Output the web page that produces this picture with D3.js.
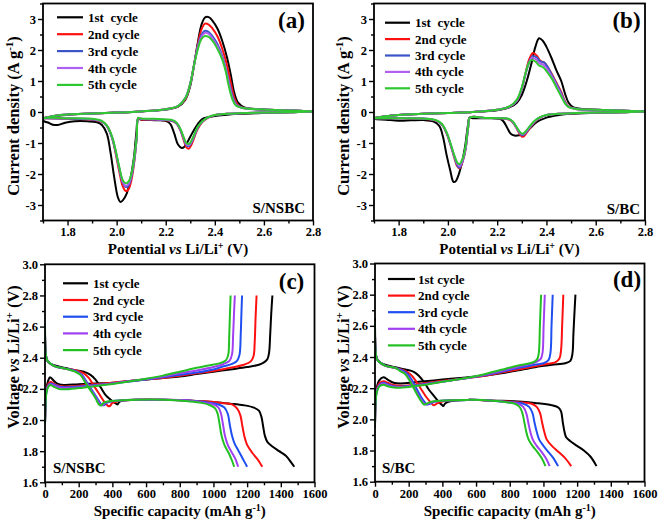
<!DOCTYPE html>
<html><head><meta charset="utf-8">
<script src="https://cdn.jsdelivr.net/npm/d3@7"></script>
<style>
body{margin:0;background:#fff}
svg text{font-family:"Liberation Serif","Times New Roman",serif;font-weight:bold;fill:#000;white-space:pre}
</style></head><body>
<svg id="chart" width="659" height="522"></svg>
<script>
// ---------- DATA ----------
const cycles = ["1st  cycle","2nd cycle","3rd cycle","4th cycle","5th cycle"];
const cyclesGCD = ["1st cycle","2nd cycle","3rd cycle","4th cycle","5th cycle"];
const cvXTicks = [1.8,2.0,2.2,2.4,2.6,2.8];
const cvYTicks = [-3,-2,-1,0,1,2,3];
const gcdXTicks = [0,200,400,600,800,1000,1200,1400,1600];
const gcdYTicks = [1.6,1.8,2.0,2.2,2.4,2.6,2.8,3.0];

// CV S/NSBC (a): each cycle = cathodic scan (2.8 -> 1.7) then anodic scan (1.7 -> 2.8)
const cvA_cathodic = [
 [[2.8,0.02],[2.7,-0.01],[2.6,-0.03],[2.5,-0.06],[2.45,-0.09],[2.4,-0.13],[2.35,-0.22],[2.33,-0.4],[2.31,-0.65],[2.29,-0.95],[2.275,-1.13],[2.265,-1.16],[2.25,-1.05],[2.235,-0.7],[2.22,-0.4],[2.205,-0.3],[2.18,-0.27],[2.14,-0.26],[2.1,-0.25],[2.088,-0.22],[2.08,-0.7],[2.07,-1.5],[2.055,-2.2],[2.04,-2.65],[2.025,-2.85],[2.015,-2.9],[2.005,-2.75],[1.99,-2.1],[1.975,-1.3],[1.96,-0.7],[1.94,-0.42],[1.92,-0.33],[1.88,-0.3],[1.83,-0.3],[1.79,-0.35],[1.76,-0.42],[1.74,-0.41],[1.72,-0.34],[1.7,-0.28]],
 [[2.8,0.02],[2.7,-0.01],[2.6,-0.02],[2.5,-0.04],[2.45,-0.06],[2.4,-0.1],[2.37,-0.2],[2.35,-0.32],[2.33,-0.55],[2.315,-0.85],[2.305,-1.05],[2.295,-1.18],[2.285,-1.15],[2.275,-0.95],[2.26,-0.6],[2.245,-0.38],[2.23,-0.3],[2.2,-0.27],[2.15,-0.25],[2.1,-0.24],[2.088,-0.2],[2.082,-0.8],[2.072,-1.6],[2.06,-2.2],[2.048,-2.5],[2.037,-2.55],[2.025,-2.4],[2.01,-1.9],[1.995,-1.3],[1.98,-0.8],[1.96,-0.45],[1.94,-0.32],[1.9,-0.25],[1.8,-0.22],[1.7,-0.2]],
 [[2.8,0.02],[2.7,-0.01],[2.6,-0.02],[2.5,-0.04],[2.45,-0.06],[2.4,-0.1],[2.37,-0.19],[2.35,-0.3],[2.33,-0.52],[2.315,-0.8],[2.305,-0.98],[2.295,-1.1],[2.285,-1.08],[2.275,-0.9],[2.26,-0.58],[2.245,-0.37],[2.23,-0.29],[2.2,-0.26],[2.15,-0.24],[2.1,-0.23],[2.088,-0.2],[2.082,-0.8],[2.072,-1.55],[2.06,-2.1],[2.048,-2.38],[2.037,-2.42],[2.025,-2.28],[2.01,-1.8],[1.995,-1.25],[1.98,-0.8],[1.96,-0.45],[1.94,-0.31],[1.9,-0.24],[1.8,-0.21],[1.7,-0.2]],
 [[2.8,0.02],[2.7,-0.01],[2.6,-0.02],[2.5,-0.04],[2.45,-0.06],[2.4,-0.1],[2.37,-0.19],[2.35,-0.3],[2.33,-0.5],[2.315,-0.78],[2.305,-0.96],[2.295,-1.07],[2.285,-1.05],[2.275,-0.88],[2.26,-0.57],[2.245,-0.36],[2.23,-0.28],[2.2,-0.25],[2.15,-0.23],[2.1,-0.22],[2.088,-0.2],[2.082,-0.8],[2.072,-1.5],[2.06,-2.05],[2.048,-2.33],[2.037,-2.38],[2.025,-2.25],[2.01,-1.78],[1.995,-1.22],[1.98,-0.78],[1.96,-0.44],[1.94,-0.3],[1.9,-0.23],[1.8,-0.2],[1.7,-0.19]],
 [[2.8,0.02],[2.7,-0.01],[2.6,-0.02],[2.5,-0.04],[2.45,-0.06],[2.4,-0.1],[2.37,-0.18],[2.35,-0.29],[2.33,-0.48],[2.315,-0.75],[2.305,-0.92],[2.295,-1.03],[2.285,-1.01],[2.275,-0.85],[2.26,-0.55],[2.245,-0.35],[2.23,-0.27],[2.2,-0.24],[2.15,-0.22],[2.1,-0.21],[2.088,-0.19],[2.082,-0.8],[2.072,-1.45],[2.06,-2.0],[2.048,-2.25],[2.037,-2.3],[2.025,-2.2],[2.01,-1.75],[1.995,-1.2],[1.98,-0.76],[1.96,-0.43],[1.94,-0.29],[1.9,-0.22],[1.8,-0.2],[1.7,-0.19]]
];
const cvA_anodic = [
 [[1.7,-0.22],[1.75,-0.13],[1.8,-0.09],[1.9,-0.05],[2.0,-0.02],[2.1,0.02],[2.2,0.08],[2.25,0.17],[2.28,0.4],[2.3,0.85],[2.315,1.5],[2.33,2.2],[2.345,2.8],[2.36,3.05],[2.375,3.06],[2.39,2.95],[2.41,2.7],[2.43,2.3],[2.45,1.75],[2.465,1.2],[2.48,0.6],[2.495,0.3],[2.52,0.15],[2.6,0.08],[2.7,0.05],[2.8,0.02]],
 [[1.7,-0.2],[1.75,-0.12],[1.8,-0.08],[1.9,-0.05],[2.0,-0.02],[2.1,0.02],[2.2,0.09],[2.25,0.18],[2.28,0.42],[2.3,0.9],[2.315,1.5],[2.33,2.15],[2.345,2.65],[2.36,2.85],[2.375,2.82],[2.39,2.7],[2.41,2.45],[2.43,2.05],[2.45,1.5],[2.465,0.95],[2.48,0.45],[2.495,0.22],[2.52,0.13],[2.6,0.08],[2.7,0.05],[2.8,0.02]],
 [[1.7,-0.2],[1.75,-0.12],[1.8,-0.08],[1.9,-0.05],[2.0,-0.02],[2.1,0.02],[2.2,0.09],[2.25,0.19],[2.28,0.45],[2.3,0.92],[2.315,1.5],[2.33,2.1],[2.345,2.48],[2.36,2.62],[2.375,2.58],[2.39,2.45],[2.41,2.2],[2.43,1.82],[2.445,1.4],[2.46,0.9],[2.475,0.45],[2.49,0.22],[2.52,0.12],[2.6,0.08],[2.7,0.05],[2.8,0.02]],
 [[1.7,-0.2],[1.75,-0.12],[1.8,-0.08],[1.9,-0.05],[2.0,-0.02],[2.1,0.02],[2.2,0.09],[2.25,0.19],[2.28,0.45],[2.3,0.92],[2.315,1.5],[2.33,2.05],[2.345,2.42],[2.36,2.55],[2.375,2.52],[2.39,2.38],[2.41,2.13],[2.43,1.76],[2.445,1.35],[2.458,0.9],[2.472,0.45],[2.488,0.22],[2.52,0.12],[2.6,0.08],[2.7,0.05],[2.8,0.02]],
 [[1.7,-0.2],[1.75,-0.12],[1.8,-0.08],[1.9,-0.05],[2.0,-0.02],[2.1,0.02],[2.2,0.09],[2.25,0.19],[2.28,0.45],[2.3,0.92],[2.315,1.5],[2.33,2.0],[2.345,2.35],[2.36,2.45],[2.375,2.42],[2.39,2.3],[2.41,2.05],[2.43,1.7],[2.445,1.3],[2.455,0.9],[2.47,0.45],[2.485,0.22],[2.52,0.12],[2.6,0.08],[2.7,0.05],[2.8,0.02]]
];

// CV S/BC (b)
const cvB_cathodic = [
 [[2.8,0.02],[2.7,-0.01],[2.6,-0.03],[2.5,-0.06],[2.45,-0.1],[2.4,-0.18],[2.36,-0.33],[2.33,-0.55],[2.31,-0.7],[2.29,-0.75],[2.27,-0.76],[2.255,-0.7],[2.24,-0.5],[2.225,-0.3],[2.21,-0.22],[2.15,-0.2],[2.1,-0.2],[2.088,-0.18],[2.08,-0.5],[2.07,-1.1],[2.055,-1.7],[2.04,-2.1],[2.03,-2.25],[2.022,-2.25],[2.01,-1.9],[1.995,-1.4],[1.98,-0.8],[1.965,-0.45],[1.94,-0.3],[1.9,-0.26],[1.85,-0.27],[1.8,-0.28],[1.75,-0.25],[1.7,-0.22]],
 [[2.8,0.02],[2.7,-0.01],[2.6,-0.02],[2.5,-0.04],[2.45,-0.06],[2.4,-0.1],[2.37,-0.2],[2.35,-0.35],[2.33,-0.55],[2.315,-0.72],[2.305,-0.8],[2.295,-0.75],[2.28,-0.55],[2.265,-0.35],[2.25,-0.25],[2.22,-0.2],[2.15,-0.19],[2.09,-0.18],[2.082,-0.5],[2.072,-1.2],[2.06,-1.6],[2.047,-1.82],[2.038,-1.75],[2.025,-1.45],[2.01,-1.05],[1.995,-0.7],[1.975,-0.4],[1.95,-0.28],[1.9,-0.22],[1.8,-0.2],[1.7,-0.2]],
 [[2.8,0.02],[2.7,-0.01],[2.6,-0.02],[2.5,-0.04],[2.45,-0.06],[2.4,-0.1],[2.37,-0.19],[2.35,-0.33],[2.33,-0.52],[2.315,-0.68],[2.305,-0.75],[2.295,-0.71],[2.28,-0.53],[2.265,-0.34],[2.25,-0.24],[2.22,-0.2],[2.15,-0.19],[2.09,-0.18],[2.082,-0.5],[2.072,-1.18],[2.06,-1.58],[2.047,-1.8],[2.038,-1.72],[2.025,-1.42],[2.01,-1.03],[1.995,-0.68],[1.975,-0.4],[1.95,-0.27],[1.9,-0.21],[1.8,-0.2],[1.7,-0.2]],
 [[2.8,0.02],[2.7,-0.01],[2.6,-0.02],[2.5,-0.04],[2.45,-0.06],[2.4,-0.1],[2.37,-0.19],[2.35,-0.32],[2.33,-0.5],[2.315,-0.66],[2.305,-0.72],[2.295,-0.69],[2.28,-0.52],[2.265,-0.33],[2.25,-0.24],[2.22,-0.2],[2.15,-0.19],[2.09,-0.18],[2.082,-0.5],[2.072,-1.15],[2.06,-1.55],[2.047,-1.75],[2.038,-1.68],[2.025,-1.4],[2.01,-1.02],[1.995,-0.67],[1.975,-0.39],[1.95,-0.27],[1.9,-0.21],[1.8,-0.2],[1.7,-0.2]],
 [[2.8,0.02],[2.7,-0.01],[2.6,-0.02],[2.5,-0.04],[2.45,-0.06],[2.4,-0.1],[2.37,-0.18],[2.35,-0.3],[2.33,-0.48],[2.315,-0.63],[2.305,-0.7],[2.295,-0.67],[2.28,-0.5],[2.265,-0.32],[2.25,-0.23],[2.22,-0.2],[2.15,-0.19],[2.09,-0.18],[2.082,-0.5],[2.072,-1.1],[2.06,-1.5],[2.047,-1.68],[2.038,-1.63],[2.025,-1.37],[2.01,-1.0],[1.995,-0.66],[1.975,-0.38],[1.95,-0.26],[1.9,-0.21],[1.8,-0.2],[1.7,-0.2]]
];
const cvB_anodic = [
 [[1.7,-0.2],[1.75,-0.14],[1.8,-0.1],[1.9,-0.06],[2.0,-0.03],[2.1,0.0],[2.2,0.06],[2.25,0.15],[2.28,0.3],[2.3,0.55],[2.32,1.0],[2.34,1.6],[2.355,2.1],[2.37,2.38],[2.385,2.3],[2.4,2.1],[2.42,1.75],[2.44,1.35],[2.46,1.0],[2.475,0.6],[2.49,0.3],[2.51,0.15],[2.55,0.1],[2.65,0.06],[2.8,0.02]],
 [[1.7,-0.2],[1.75,-0.14],[1.8,-0.1],[1.9,-0.06],[2.0,-0.03],[2.1,0.0],[2.2,0.07],[2.25,0.17],[2.28,0.35],[2.3,0.75],[2.315,1.25],[2.33,1.7],[2.345,1.9],[2.36,1.82],[2.375,1.65],[2.39,1.6],[2.405,1.45],[2.42,1.25],[2.44,0.95],[2.46,0.65],[2.475,0.35],[2.49,0.18],[2.52,0.1],[2.6,0.07],[2.8,0.02]],
 [[1.7,-0.2],[1.75,-0.14],[1.8,-0.1],[1.9,-0.06],[2.0,-0.03],[2.1,0.0],[2.2,0.07],[2.25,0.17],[2.28,0.36],[2.3,0.75],[2.315,1.22],[2.33,1.62],[2.345,1.8],[2.36,1.76],[2.375,1.63],[2.39,1.6],[2.405,1.45],[2.42,1.22],[2.44,0.92],[2.46,0.6],[2.475,0.32],[2.49,0.17],[2.52,0.1],[2.6,0.07],[2.8,0.02]],
 [[1.7,-0.2],[1.75,-0.14],[1.8,-0.1],[1.9,-0.06],[2.0,-0.03],[2.1,0.0],[2.2,0.07],[2.25,0.17],[2.28,0.38],[2.3,0.78],[2.315,1.23],[2.33,1.6],[2.342,1.75],[2.357,1.7],[2.372,1.57],[2.387,1.53],[2.403,1.38],[2.42,1.17],[2.44,0.87],[2.46,0.56],[2.475,0.3],[2.49,0.17],[2.52,0.1],[2.6,0.07],[2.8,0.02]],
 [[1.7,-0.2],[1.75,-0.14],[1.8,-0.1],[1.9,-0.06],[2.0,-0.03],[2.1,0.0],[2.2,0.07],[2.25,0.18],[2.28,0.4],[2.3,0.8],[2.315,1.25],[2.33,1.6],[2.34,1.68],[2.355,1.63],[2.37,1.5],[2.385,1.45],[2.4,1.32],[2.42,1.1],[2.44,0.8],[2.46,0.5],[2.475,0.28],[2.49,0.16],[2.52,0.1],[2.6,0.07],[2.8,0.02]]
];

// GCD S/NSBC (c): [capacity mAh/g, voltage V]
const gcdC_discharge = [
 [[0,2.62],[3,2.45],[8,2.4],[20,2.37],[60,2.35],[120,2.335],[180,2.32],[230,2.31],[270,2.29],[300,2.26],[330,2.21],[360,2.16],[390,2.13],[415,2.11],[430,2.1],[440,2.115],[460,2.125],[550,2.13],[700,2.13],[850,2.125],[1000,2.115],[1100,2.105],[1180,2.095],[1240,2.08],[1270,2.06],[1285,2.02],[1295,1.96],[1305,1.9],[1320,1.86],[1350,1.83],[1390,1.8],[1430,1.77],[1460,1.73],[1480,1.7]],
 [[0,2.6],[5,2.42],[15,2.38],[60,2.345],[120,2.33],[180,2.32],[230,2.3],[260,2.27],[290,2.22],[320,2.17],[350,2.12],[375,2.09],[385,2.09],[400,2.11],[430,2.12],[550,2.13],[700,2.13],[850,2.125],[950,2.12],[1050,2.11],[1110,2.1],[1140,2.075],[1160,2.03],[1172,1.96],[1185,1.89],[1200,1.84],[1230,1.79],[1260,1.75],[1290,1.7]],
 [[0,2.6],[5,2.42],[15,2.38],[60,2.345],[120,2.33],[180,2.315],[220,2.29],[250,2.24],[280,2.19],[310,2.14],[335,2.1],[350,2.095],[365,2.11],[400,2.12],[550,2.13],[700,2.13],[850,2.125],[950,2.115],[1030,2.1],[1065,2.08],[1085,2.04],[1097,1.97],[1110,1.9],[1125,1.85],[1150,1.8],[1175,1.75],[1200,1.7]],
 [[0,2.6],[5,2.42],[15,2.38],[60,2.345],[120,2.33],[180,2.312],[215,2.29],[245,2.24],[275,2.19],[305,2.14],[328,2.1],[342,2.095],[357,2.11],[390,2.12],[550,2.13],[700,2.13],[850,2.125],[950,2.11],[1000,2.1],[1030,2.08],[1045,2.04],[1057,1.97],[1068,1.9],[1085,1.84],[1110,1.79],[1130,1.75],[1147,1.7]],
 [[0,2.62],[5,2.42],[15,2.38],[60,2.345],[120,2.33],[180,2.31],[210,2.29],[240,2.24],[270,2.19],[300,2.14],[320,2.1],[333,2.093],[347,2.11],[380,2.12],[550,2.13],[700,2.13],[850,2.12],[930,2.11],[980,2.095],[1010,2.075],[1025,2.04],[1037,1.97],[1048,1.9],[1065,1.84],[1090,1.79],[1110,1.74],[1123,1.7]]
];
const gcdC_charge = [
 [[0,1.97],[3,2.1],[8,2.2],[18,2.25],[30,2.275],[45,2.26],[70,2.235],[110,2.225],[200,2.23],[300,2.235],[400,2.24],[500,2.25],[600,2.26],[700,2.27],[800,2.28],[900,2.295],[1000,2.31],[1100,2.325],[1200,2.34],[1270,2.355],[1300,2.37],[1320,2.39],[1330,2.43],[1337,2.55],[1343,2.68],[1350,2.8]],
 [[0,1.97],[3,2.1],[8,2.19],[18,2.23],[32,2.245],[50,2.235],[80,2.22],[120,2.215],[200,2.22],[300,2.23],[400,2.24],[500,2.25],[600,2.26],[700,2.27],[800,2.285],[900,2.3],[1000,2.315],[1100,2.335],[1180,2.355],[1220,2.375],[1238,2.41],[1245,2.5],[1250,2.65],[1256,2.8]],
 [[0,1.97],[3,2.1],[8,2.18],[18,2.22],[32,2.235],[50,2.23],[80,2.215],[120,2.21],[200,2.215],[300,2.225],[400,2.235],[500,2.248],[600,2.26],[700,2.275],[800,2.29],[900,2.305],[1000,2.325],[1060,2.345],[1110,2.36],[1140,2.38],[1155,2.42],[1162,2.55],[1166,2.68],[1170,2.8]],
 [[0,1.97],[3,2.1],[8,2.18],[18,2.215],[32,2.23],[50,2.225],[80,2.21],[120,2.205],[200,2.21],[300,2.222],[400,2.235],[500,2.25],[600,2.263],[700,2.28],[800,2.3],[900,2.318],[1000,2.34],[1060,2.36],[1095,2.38],[1110,2.42],[1117,2.55],[1122,2.68],[1127,2.8]],
 [[0,1.97],[3,2.1],[8,2.17],[18,2.21],[32,2.225],[50,2.215],[80,2.2],[120,2.197],[200,2.205],[300,2.218],[400,2.232],[500,2.248],[600,2.265],[700,2.285],[800,2.31],[900,2.335],[970,2.35],[1040,2.365],[1075,2.385],[1088,2.42],[1094,2.55],[1098,2.68],[1102,2.8]]
];

// GCD S/BC (d)
const gcdD_discharge = [
 [[0,2.65],[3,2.45],[8,2.4],[25,2.37],[60,2.35],[120,2.335],[180,2.32],[230,2.305],[260,2.28],[290,2.24],[320,2.19],[350,2.15],[380,2.11],[395,2.095],[405,2.085],[415,2.1],[440,2.115],[550,2.125],[700,2.12],[850,2.115],[950,2.105],[1050,2.09],[1090,2.075],[1105,2.05],[1115,1.98],[1125,1.92],[1135,1.885],[1160,1.86],[1200,1.83],[1240,1.8],[1280,1.76],[1315,1.7]],
 [[0,2.62],[5,2.42],[15,2.38],[60,2.345],[120,2.33],[170,2.315],[210,2.29],[240,2.25],[270,2.2],[300,2.15],[330,2.11],[350,2.09],[365,2.1],[400,2.115],[550,2.125],[700,2.12],[850,2.11],[930,2.1],[960,2.08],[980,2.04],[992,1.98],[1005,1.92],[1020,1.87],[1050,1.83],[1090,1.79],[1130,1.75],[1165,1.7]],
 [[0,2.62],[5,2.42],[15,2.38],[60,2.345],[120,2.33],[160,2.315],[195,2.29],[220,2.25],[245,2.2],[270,2.15],[295,2.11],[310,2.095],[325,2.1],[360,2.115],[550,2.125],[700,2.12],[800,2.11],[880,2.1],[915,2.08],[935,2.04],[947,1.98],[960,1.92],[975,1.87],[1000,1.83],[1030,1.79],[1060,1.75],[1087,1.7]],
 [[0,2.62],[5,2.42],[15,2.38],[60,2.345],[120,2.33],[155,2.312],[185,2.29],[210,2.25],[235,2.2],[260,2.15],[285,2.11],[300,2.095],[315,2.1],[350,2.115],[550,2.125],[700,2.12],[790,2.11],[850,2.1],[880,2.08],[898,2.04],[910,1.98],[922,1.92],[937,1.87],[960,1.83],[990,1.79],[1015,1.75],[1037,1.7]],
 [[0,2.63],[5,2.42],[15,2.38],[60,2.345],[120,2.33],[150,2.31],[180,2.29],[205,2.25],[230,2.2],[255,2.15],[278,2.11],[290,2.095],[305,2.1],[340,2.115],[550,2.125],[700,2.12],[780,2.11],[830,2.1],[858,2.08],[875,2.04],[887,1.98],[898,1.92],[912,1.87],[935,1.83],[965,1.79],[990,1.75],[1012,1.7]]
];
const gcdD_charge = [
 [[0,1.95],[3,2.1],[10,2.2],[25,2.25],[50,2.27],[75,2.255],[110,2.235],[150,2.23],[250,2.24],[350,2.25],[450,2.26],[550,2.27],[650,2.28],[750,2.295],[850,2.315],[950,2.335],[1050,2.35],[1130,2.36],[1160,2.375],[1172,2.42],[1178,2.55],[1184,2.68],[1190,2.8]],
 [[0,1.96],[3,2.1],[10,2.19],[25,2.23],[50,2.245],[75,2.235],[110,2.22],[150,2.215],[250,2.225],[350,2.24],[450,2.252],[550,2.265],[650,2.28],[750,2.3],[850,2.32],[950,2.34],[1020,2.355],[1070,2.365],[1095,2.39],[1105,2.45],[1111,2.6],[1118,2.8]],
 [[0,1.96],[3,2.1],[10,2.18],[25,2.22],[50,2.235],[75,2.225],[110,2.212],[150,2.21],[250,2.22],[350,2.235],[450,2.25],[550,2.265],[650,2.283],[750,2.305],[850,2.33],[950,2.35],[1000,2.36],[1030,2.38],[1042,2.43],[1048,2.6],[1055,2.8]],
 [[0,1.96],[3,2.1],[10,2.175],[25,2.215],[50,2.23],[75,2.22],[110,2.21],[150,2.207],[250,2.218],[350,2.233],[450,2.25],[550,2.266],[650,2.286],[750,2.31],[850,2.338],[930,2.358],[960,2.37],[985,2.39],[995,2.43],[1001,2.6],[1008,2.8]],
 [[0,1.96],[3,2.1],[10,2.17],[25,2.21],[50,2.222],[75,2.213],[110,2.205],[150,2.203],[250,2.215],[350,2.232],[450,2.25],[550,2.267],[650,2.29],[750,2.318],[850,2.345],[920,2.36],[950,2.372],[965,2.39],[973,2.43],[979,2.6],[986,2.8]]
];

// ---------- STYLE / LAYOUT ----------
const cvColors = ["#000000","#ff1010","#3a55c8","#b060f0","#30c830"];
const gcdColors = ["#000000","#ff1010","#1f4ff0","#a040f0","#22c022"];
const svg = d3.select("#chart");

const panels = [
 {key:"a", type:"cv", L:43, R:313, T:3.5, B:220.5, xd:[1.7,2.8], yd:[-3.5,3.5],
  series: cvA_cathodic.map((c,i)=>c.concat(cvA_anodic[i])), labels: cycles, colors: cvColors,
  leg:{x1:57,x2:83,y0:17.3,dy:16.9,tx:88}, tag:{x:291.5,y:28}, sample:{text:"S/NSBC",x:305,y:213,anchor:"end"},
  ytitle:{x:18.5,y:116}, xtitle:{y:253.5}},
 {key:"b", type:"cv", L:374, R:645, T:3.5, B:220.5, xd:[1.7,2.8], yd:[-3.5,3.5],
  series: cvB_cathodic.map((c,i)=>c.concat(cvB_anodic[i])), labels: cycles, colors: cvColors,
  leg:{x1:385,x2:410,y0:22.7,dy:16.4,tx:415}, tag:{x:626.5,y:28}, sample:{text:"S/BC",x:640,y:214,anchor:"end"},
  ytitle:{x:348.5,y:116}, xtitle:{y:253.5}},
 {key:"c", type:"gcd", L:45, R:314.5, T:264.3, B:482.3, xd:[0,1600], yd:[1.6,3.0],
  series: gcdC_discharge, series2: gcdC_charge, labels: cyclesGCD, colors: gcdColors,
  leg:{x1:63,x2:88,y0:283.3,dy:16.7,tx:93}, tag:{x:291.5,y:289}, sample:{text:"S/NSBC",x:53,y:473,anchor:"start"},
  ytitle:{x:19,y:357}, xtitle:{y:515.5}},
 {key:"d", type:"gcd", L:375, R:644.5, T:263.5, B:481.7, xd:[0,1600], yd:[1.6,3.0],
  series: gcdD_discharge, series2: gcdD_charge, labels: cyclesGCD, colors: gcdColors,
  leg:{x1:388,x2:415,y0:279,dy:16.6,tx:418}, tag:{x:627,y:287}, sample:{text:"S/BC",x:382,y:473,anchor:"start"},
  ytitle:{x:349,y:357}, xtitle:{y:515.5}}
];

function drawPanel(p){
  const g = svg.append("g");
  const x = d3.scaleLinear().domain(p.xd).range([p.L,p.R]);
  const y = d3.scaleLinear().domain(p.yd).range([p.B,p.T]);
  const clipId = "clip-"+p.key;
  svg.append("clipPath").attr("id",clipId).append("rect")
    .attr("x",p.L).attr("y",p.T).attr("width",p.R-p.L).attr("height",p.B-p.T);

  const line = d3.line().x(d=>x(d[0])).y(d=>y(d[1])).curve(d3.curveCatmullRom.alpha(0.5));
  const cg = g.append("g").attr("clip-path",`url(#${clipId})`);
  p.series.forEach((s,i)=>{
    cg.append("path").attr("d",line(s)).attr("fill","none").attr("stroke",p.colors[i])
      .attr("stroke-width",2).attr("stroke-linejoin","round");
    if(p.series2){
      cg.append("path").attr("d",line(p.series2[i])).attr("fill","none").attr("stroke",p.colors[i])
        .attr("stroke-width",2).attr("stroke-linejoin","round");
    }
  });

  // axes
  let xMajor, xMinor, yMajor, yMinor, xFmt, yFmt;
  if(p.type==="cv"){
    xMajor = cvXTicks; xMinor = cvXTicks.map(v=>+(v-0.1).toFixed(2));
    yMajor = cvYTicks; yMinor = cvYTicks.map(v=>v-0.5).concat([3.5]);
    xFmt = d3.format(".1f"); yFmt = d=>String(d);
  } else {
    xMajor = gcdXTicks; xMinor = gcdXTicks.slice(1).map(v=>v-100);
    yMajor = gcdYTicks; yMinor = gcdYTicks.slice(1).map(v=>+(v-0.1).toFixed(2));
    xFmt = d=>String(d); yFmt = d3.format(".1f");
  }
  const ax = g.append("g").attr("transform",`translate(0,${p.B})`)
    .call(d3.axisBottom(x).tickValues(xMajor).tickSize(5).tickPadding(2).tickFormat(xFmt));
  const axm = g.append("g").attr("transform",`translate(0,${p.B})`)
    .call(d3.axisBottom(x).tickValues(xMinor).tickSize(3).tickFormat(""));
  const ay = g.append("g").attr("transform",`translate(${p.L},0)`)
    .call(d3.axisLeft(y).tickValues(yMajor).tickSize(5).tickPadding(2).tickFormat(yFmt));
  const aym = g.append("g").attr("transform",`translate(${p.L},0)`)
    .call(d3.axisLeft(y).tickValues(yMinor).tickSize(3).tickFormat(""));
  [ax,axm,ay,aym].forEach(a=>{
    a.select(".domain").remove();
    a.selectAll("line").attr("stroke","#000").attr("stroke-width",1.4);
    a.selectAll("text").style("font-size","12.5px").style("font-family","'Liberation Serif',serif").style("font-weight","bold");
  });

  // frame
  g.append("rect").attr("x",p.L).attr("y",p.T).attr("width",p.R-p.L).attr("height",p.B-p.T)
    .attr("fill","none").attr("stroke","#000").attr("stroke-width",1.8);

  // legend
  p.labels.forEach((lab,i)=>{
    const yy = p.leg.y0 + i*p.leg.dy;
    g.append("line").attr("x1",p.leg.x1).attr("x2",p.leg.x2).attr("y1",yy).attr("y2",yy)
      .attr("stroke",p.colors[i]).attr("stroke-width",2.2);
    g.append("text").attr("x",p.leg.tx).attr("y",yy+4.5).style("font-size","13px").text(lab);
  });

  // panel tag
  g.append("text").attr("x",p.tag.x).attr("y",p.tag.y).attr("text-anchor","middle")
    .style("font-size","23px").text(`(${p.key})`);
  // sample name
  g.append("text").attr("x",p.sample.x).attr("y",p.sample.y).attr("text-anchor",p.sample.anchor)
    .style("font-size","15px").text(p.sample.text);

  // axis titles
  const cx = (p.L+p.R)/2;
  const xt = g.append("text").attr("x",cx).attr("y",p.xtitle.y).attr("text-anchor","middle").style("font-size","15px");
  const yt = g.append("text").attr("transform",`translate(${p.ytitle.x},${p.ytitle.y}) rotate(-90)`)
    .attr("text-anchor","middle").style("font-size","16.5px");
  if(p.type==="cv"){
    xt.append("tspan").text("Potential ");
    xt.append("tspan").style("font-style","italic").text("vs");
    xt.append("tspan").text(" Li/Li");
    xt.append("tspan").attr("dy",-5).style("font-size","10px").text("+");
    xt.append("tspan").attr("dy",5).text(" (V)");
    yt.append("tspan").text("Current density (A g");
    yt.append("tspan").attr("dy",-6).style("font-size","11px").text("-1");
    yt.append("tspan").attr("dy",6).text(")");
  } else {
    xt.append("tspan").text("Specific capacity (mAh g");
    xt.append("tspan").attr("dy",-5).style("font-size","10px").text("-1");
    xt.append("tspan").attr("dy",5).text(")");
    yt.append("tspan").text("Voltage ");
    yt.append("tspan").style("font-style","italic").text("vs");
    yt.append("tspan").text(" Li/Li");
    yt.append("tspan").attr("dy",-6).style("font-size","11px").text("+");
    yt.append("tspan").attr("dy",6).text(" (V)");
  }
}
panels.forEach(drawPanel);
</script>
</body></html>
